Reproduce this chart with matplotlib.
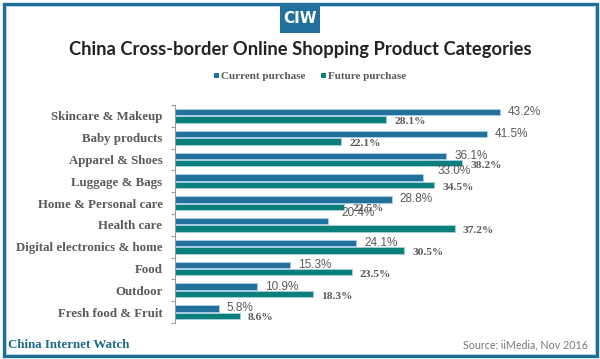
"""
Recreates the CIW chart of China cross-border online shopping categories.
Grouped horizontal bars: current vs future purchase share (%).
"""

import matplotlib
matplotlib.use("Agg")
import matplotlib.pyplot as plt
from matplotlib.patches import Rectangle
import numpy as np


# ── Data ──────────────────────────────────────────────────────────────
categories = [
    "Skincare & Makeup", "Baby products", "Apparel & Shoes", "Luggage & Bags",
    "Home & Personal care", "Health care", "Digital electronics & home",
    "Food", "Outdoor", "Fresh food & Fruit",
]
current_purchase = [43.2, 41.5, 36.1, 33.0, 28.8, 20.4, 24.1, 15.3, 10.9, 5.8]
future_purchase = [28.1, 22.1, 38.2, 34.5, 22.5, 37.2, 30.5, 23.5, 18.3, 8.6]

# label nudges (pixels) where the source chart shifted its value labels
current_nudge = {3: (14, 7), 5: (13, 8)}

BLUE = "#22719c"
TEAL = "#0b7f7a"
GREY = "#5a5a5a"
W, H = 600, 359


def fx(px):
    return px / W


def fy(py):
    return 1 - py / H


# ── Figure ────────────────────────────────────────────────────────────
fig = plt.figure(figsize=(6, 3.59), dpi=100)
fig.patch.set_facecolor("white")

# frame
fig.patches.append(Rectangle((fx(3.5), fy(355.5)), fx(593), 352 / H,
                             transform=fig.transFigure, fill=False,
                             edgecolor="#1f6e99", linewidth=2.4))
fig.patches.append(Rectangle((fx(5.5), fy(353.5)), fx(589), 348 / H,
                             transform=fig.transFigure, fill=False,
                             edgecolor="#a9d0e4", linewidth=0.6))

# CIW badge
fig.patches.append(Rectangle((fx(280), fy(33)), fx(40), 29 / H,
                             transform=fig.transFigure, facecolor=BLUE,
                             edgecolor="none"))
fig.text(fx(300), fy(18.5), "CIW", color="white", fontsize=11,
         fontweight="bold", family="DejaVu Sans", ha="center", va="center")

fig.text(fx(300), fy(50), "China Cross-border Online Shopping Product Categories",
         fontsize=13.2, family="Lato", fontweight="bold", color="#222222",
         ha="center", va="center")

# legend
for sx, col, lab in [(214, BLUE, "Current purchase"), (321, TEAL, "Future purchase")]:
    fig.patches.append(Rectangle((fx(sx), fy(78)), fx(5), 5 / H,
                                 transform=fig.transFigure, facecolor=col,
                                 edgecolor="none"))
    fig.text(fx(sx + 7), fy(76.5), lab, fontsize=8, family="Liberation Serif",
             fontweight="bold", color=GREY, ha="left", va="center")

# ── Plot ──────────────────────────────────────────────────────────────
ax = fig.add_axes([fx(175), fy(323), fx(385), (323 - 105) / H])
y = np.arange(len(categories))
off, bh = 0.17, 0.3

ax.barh(y - off, current_purchase, height=bh, color=BLUE,
        edgecolor="#a6cde2", linewidth=0.7)
ax.barh(y + off, future_purchase, height=bh, color=TEAL,
        edgecolor="#a6cde2", linewidth=0.7)

ax.set_xlim(0, 385 / 7.52)
ax.set_ylim(len(categories) - 0.5, -0.5)

for i, v in enumerate(current_purchase):
    dx, dy = current_nudge.get(i, (8, 0))
    ax.annotate(f"{v:.1f}%", (v, i - off), xytext=(dx, dy),
                textcoords="offset pixels", ha="left", va="center",
                fontsize=8.5, family="Liberation Sans", color=GREY)
for i, v in enumerate(future_purchase):
    ax.annotate(f"{v:.1f}%", (v, i + off), xytext=(8, -2),
                textcoords="offset pixels", ha="left", va="center",
                fontsize=8.2, family="Liberation Serif", fontweight="bold",
                color=GREY)

for s in ["top", "right", "bottom"]:
    ax.spines[s].set_visible(False)
ax.spines["left"].set_color("#9a9a9a")
ax.spines["left"].set_linewidth(0.8)
ax.set_xticks([])
ax.set_yticks(y)
ax.set_yticklabels(categories, family="Liberation Serif", fontweight="bold",
                   fontsize=9.3, color=GREY)
ax.set_yticks(np.arange(-0.5, len(categories)), minor=True)
ax.tick_params(axis="y", which="major", length=0, pad=9)
ax.tick_params(axis="y", which="minor", length=3, color="#9a9a9a", width=0.8)

# footer
fig.text(fx(8), fy(345), "China Internet Watch", fontsize=9.4, family="Liberation Serif",
         fontweight="bold", color="#1f6a8c", ha="left", va="center")
fig.text(fx(588), fy(345), "Source: iiMedia, Nov 2016", fontsize=7.7,
         family="Lato", color="#777777", ha="right", va="center")

plt.savefig("out.png", dpi=100)
